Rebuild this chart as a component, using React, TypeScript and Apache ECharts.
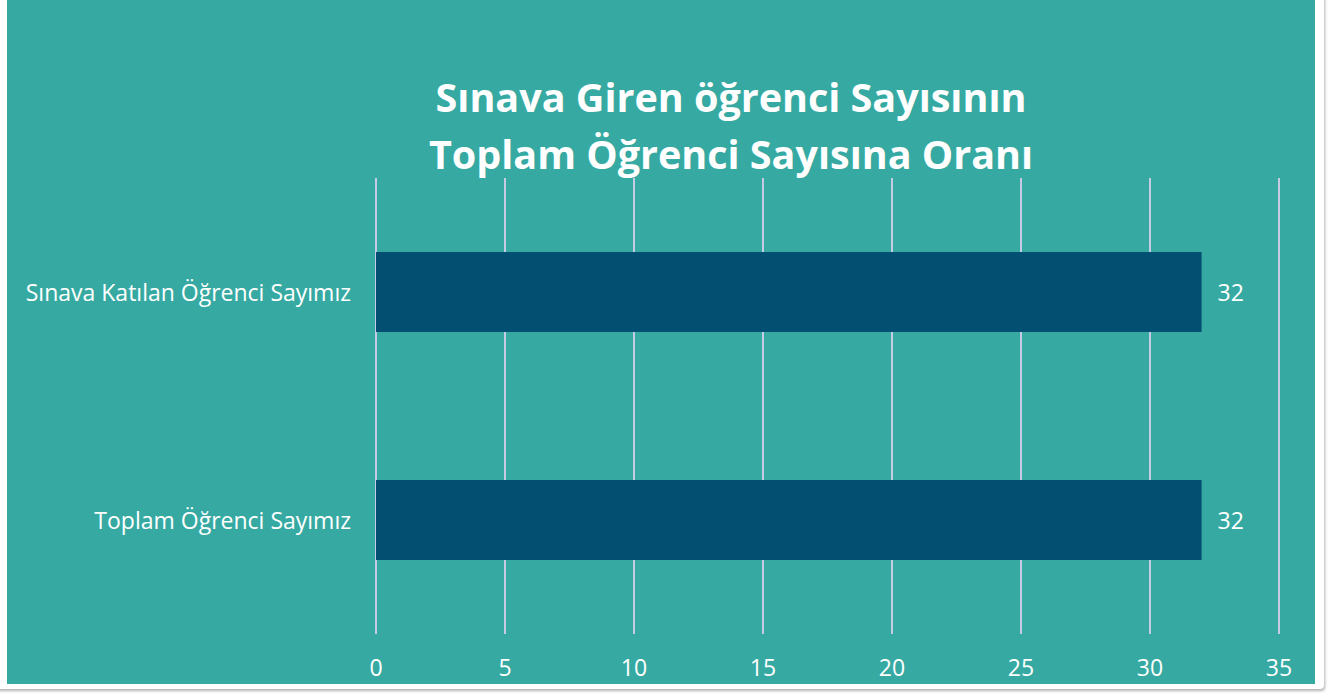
import React, { useEffect, useRef } from "react";
import * as echarts from "echarts";

const categories = ["Toplam Öğrenci Sayımız", "Sınava Katılan Öğrenci Sayımız"];
const values = [32, 32];
const titleLines = ["Sınava Giren öğrenci Sayısının", "Toplam Öğrenci Sayısına Oranı"];

const TEAL = "#36AAA2";
const BAR = "#024F71";
const FONT = "'Open Sans', 'Noto Sans', sans-serif";

export default function App() {
  const ref = useRef<HTMLDivElement>(null);
  useEffect(() => {
    document.body.style.margin = "0";
    const chart = echarts.init(ref.current!, undefined, { renderer: "svg" });
    chart.setOption({
      animation: false,
      backgroundColor: TEAL,
      title: {
        text: titleLines.join("\n"),
        left: 719,
        top: 63,
        textAlign: "center",
        textStyle: {
          color: "#ffffff",
          fontSize: 39.5,
          fontWeight: "bold",
          fontFamily: FONT,
          lineHeight: 57,
        },
      },
      grid: { left: 369, right: 36, top: 178, bottom: 50 },
      xAxis: {
        type: "value",
        min: 0,
        max: 35,
        interval: 5,
        axisLine: { show: false },
        axisTick: { show: false },
        axisLabel: { color: "#ffffff", fontSize: 23, fontFamily: FONT, margin: 21 },
        splitLine: { show: true, lineStyle: { color: "#C3CCE2", width: 2 } },
      },
      yAxis: {
        type: "category",
        data: categories,
        axisLine: { show: false },
        axisTick: { show: false },
        axisLabel: { color: "#ffffff", fontSize: 23, fontFamily: FONT, margin: 25 },
      },
      series: [
        {
          type: "bar",
          data: values,
          barWidth: "35%",
          itemStyle: { color: BAR },
          label: {
            show: true,
            position: "right",
            distance: 16,
            color: "#ffffff",
            fontSize: 23,
            fontFamily: FONT,
          },
        },
      ],
    });
    return () => chart.dispose();
  }, []);
  return (
    <div style={{ position: "relative", width: 1333, height: 693, background: "#ffffff", overflow: "hidden" }}>
      <div
        style={{
          position: "absolute",
          left: -10,
          top: -10,
          width: 1334,
          height: 699,
          background: "#ffffff",
          borderRadius: 4,
          boxShadow: "1px 2px 3px rgba(0,0,0,0.3)",
        }}
      />
      <div ref={ref} style={{ position: "absolute", left: 7, top: 0, width: 1308, height: 684 }} />
    </div>
  );
}
